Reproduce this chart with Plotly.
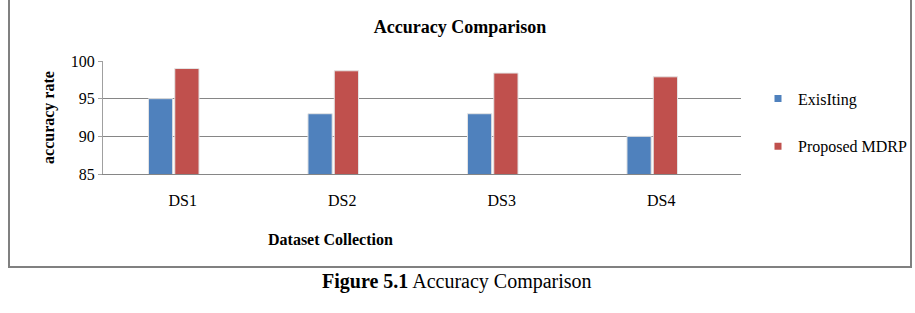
import plotly.graph_objects as go

categories = ["DS1", "DS2", "DS3", "DS4"]
existing = [95.0, 93.0, 93.0, 90.0]
proposed = [99.0, 98.7, 98.4, 97.9]
series_names = ["ExisIting", "Proposed MDRP"]
colors = ["#4F81BD", "#C0504D"]
y_ticks = [85, 90, 95, 100]

W, H = 915, 313
L, R, T, B = 103, 741, 61, 174  # plot area in px

def px_x(px):
    return (px - L) / (R - L)

def px_y(py):
    return (B - py) / (B - T)

FONT = "Liberation Serif, Times New Roman, serif"

fig = go.Figure()
fig.add_trace(go.Bar(x=categories, y=existing, name=series_names[0],
                     marker=dict(color=colors[0], line=dict(color="#E4E4E4", width=1)),
                     width=0.152, offset=-0.215, showlegend=False))
fig.add_trace(go.Bar(x=categories, y=proposed, name=series_names[1],
                     marker=dict(color=colors[1], line=dict(color="#E4E4E4", width=1)),
                     width=0.152, offset=-0.05, showlegend=False))
# legend entries (small square markers like the original)
for nm, c in zip(series_names, colors):
    fig.add_trace(go.Scatter(x=[None], y=[None], mode="markers", name=nm,
                             legendgroup=nm,
                             marker=dict(symbol="square", size=7, color=c)))

fig.update_layout(
    width=W, height=H,
    margin=dict(l=L, r=W - R, t=T, b=H - B, pad=0, autoexpand=False),
    paper_bgcolor="white", plot_bgcolor="white",
    font=dict(family=FONT, size=16, color="#000000"),
    title=dict(text="<b>Accuracy Comparison</b>", x=460 / W, xanchor="center",
               y=1 - 27 / H, yanchor="middle", yref="container",
               font=dict(family=FONT, size=18, color="#000000")),
    barmode="group",
    legend=dict(x=px_x(758), xanchor="left", y=px_y(122.5), yanchor="middle",
                tracegroupgap=24, font=dict(family=FONT, size=16, color="#000000"),
                bgcolor="rgba(0,0,0,0)", borderwidth=0, itemclick=False),
    showlegend=True,
)
fig.update_xaxes(type="category", range=[-0.5, 3.5], showgrid=False,
                 showline=True, linecolor="#868686", linewidth=1,
                 ticks="", ticklabelstandoff=12,
                 tickfont=dict(family=FONT, size=16, color="#000000"))
fig.update_yaxes(range=[85, 100], tickvals=y_ticks, showgrid=True,
                 gridcolor="#868686", gridwidth=1,
                 showline=True, linecolor="#A0A0A0", linewidth=1,
                 ticks="outside", ticklen=4, tickcolor="#A0A0A0",
                 zeroline=False,
                 tickfont=dict(family=FONT, size=16, color="#000000"),
                 title=dict(text="<b>accuracy rate</b>", standoff=12,
                            font=dict(family=FONT, size=16, color="#000000")))

# x-axis title sits left of centre in the original
fig.add_annotation(text="<b>Dataset Collection</b>",
                   xref="paper", yref="paper", x=px_x(330), y=px_y(239),
                   xanchor="center", yanchor="middle", showarrow=False,
                   font=dict(family=FONT, size=16, color="#000000"))

# outer frame of the chart (top edge cropped in original)
frame = "#808080"
fig.add_shape(type="line", xref="paper", yref="paper",
              x0=px_x(9), x1=px_x(9), y0=px_y(-5), y1=px_y(267),
              line=dict(color=frame, width=2))
fig.add_shape(type="line", xref="paper", yref="paper",
              x0=px_x(911), x1=px_x(911), y0=px_y(-5), y1=px_y(267),
              line=dict(color=frame, width=2))
fig.add_shape(type="line", xref="paper", yref="paper",
              x0=px_x(8), x1=px_x(912), y0=px_y(267), y1=px_y(267),
              line=dict(color=frame, width=2))

fig.add_annotation(text="<b>Figure 5.1</b> Accuracy Comparison",
                   xref="paper", yref="paper", x=px_x(457), y=px_y(281),
                   xanchor="center", yanchor="middle", showarrow=False,
                   font=dict(family=FONT, size=20, color="#000000"))

fig.write_html("out.html")
